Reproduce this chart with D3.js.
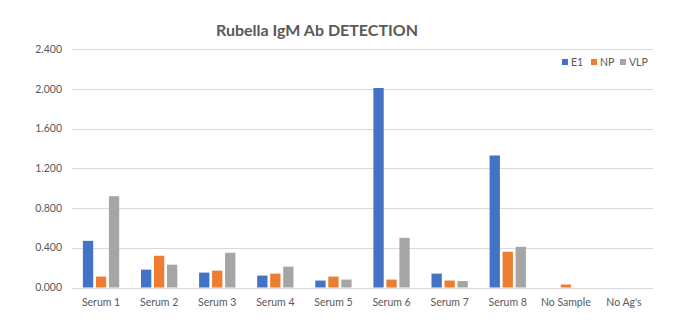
<!DOCTYPE html>
<html><head><meta charset="utf-8">
<script src="https://cdn.jsdelivr.net/npm/d3@7"></script>
<style>html,body{margin:0;padding:0;background:#fff;}svg{display:block;}</style>
</head><body>
<svg id="c" width="695" height="333"></svg>
<script>
const categories = ["Serum 1","Serum 2","Serum 3","Serum 4","Serum 5","Serum 6","Serum 7","Serum 8","No Sample","No Ag's"];
const seriesNames = ["E1","NP","VLP"];
const E1  = [0.47,0.18,0.15,0.12,0.07,2.01,0.14,1.33,0,0];
const NP  = [0.11,0.32,0.17,0.14,0.11,0.08,0.07,0.36,0.03,0];
const VLP = [0.92,0.23,0.35,0.21,0.08,0.50,0.065,0.41,0,0];
const yTicks = [0,0.4,0.8,1.2,1.6,2.0,2.4];
const colors = ["#4472C4","#ED7D31","#A5A5A5"];
const series = [E1,NP,VLP];

const svg = d3.select("#c");
const font = "Lato, 'Open Sans', sans-serif";
const m = {l:72, r:42, t:49.3, b:45.5};
const W = 695, H = 333;
const x = d3.scaleBand().domain(categories).range([m.l, W-m.r]);
const y = d3.scaleLinear().domain([0,2.4]).range([H-m.b, m.t]);

// gridlines
svg.append("g").selectAll("line").data(yTicks).join("line")
  .attr("x1", m.l).attr("x2", W-m.r)
  .attr("y1", d=>Math.round(y(d))+0.5).attr("y2", d=>Math.round(y(d))+0.5)
  .attr("stroke", "#d9d9d9").attr("stroke-width",1);

// y labels
svg.append("g").selectAll("text").data(yTicks).join("text")
  .attr("x", 62).attr("y", d=>y(d)+3.5)
  .attr("text-anchor","end").attr("font-family",font).attr("font-size",10.5).attr("fill","#595959")
  .text(d=>d3.format(".3f")(d));

// bars
const bw = 10.3, step = 13;
const g = svg.append("g");
series.forEach((s,i)=>{
  g.selectAll(null).data(s.map((v,j)=>({v,c:categories[j]}))).join("rect")
    .attr("x", d=>x(d.c)+x.bandwidth()/2 + (i-1)*step - bw/2)
    .attr("width", bw)
    .attr("y", d=>y(d.v))
    .attr("height", d=>y(0)-y(d.v))
    .attr("fill", colors[i]);
});

// baseline
svg.append("line").attr("x1",m.l).attr("x2",W-m.r)
  .attr("y1",Math.round(y(0))+0.5).attr("y2",Math.round(y(0))+0.5)
  .attr("stroke","#d9d9d9");

// x labels
svg.append("g").selectAll("text").data(categories).join("text")
  .attr("x", d=>x(d)+x.bandwidth()/2).attr("y", 306)
  .attr("text-anchor","middle").attr("font-family",font).attr("font-size",10.5).attr("fill","#595959")
  .text(d=>d);

// title
svg.append("text").attr("x", 317).attr("y", 36)
  .attr("text-anchor","middle").attr("font-family",font).attr("font-weight","bold")
  .attr("font-size",16).attr("fill","#595959").text("Rubella IgM Ab DETECTION");

// legend
const legX = [562, 591, 620];
const lg = svg.append("g");
seriesNames.forEach((n,i)=>{
  lg.append("rect").attr("x",legX[i]).attr("y",59).attr("width",6).attr("height",6).attr("fill",colors[i]);
  lg.append("text").attr("x",legX[i]+9).attr("y",65.5).attr("font-family",font).attr("font-size",10.5)
    .attr("fill","#595959").text(n);
});
</script>
</body></html>
